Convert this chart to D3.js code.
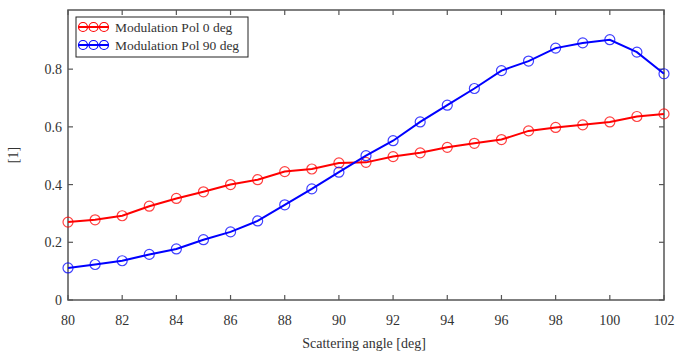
<!DOCTYPE html>
<html><head><meta charset="utf-8">
<script src="https://cdn.jsdelivr.net/npm/d3@7"></script>
<style>body{margin:0;background:#fff}svg{display:block}text{font-family:"Liberation Serif","Times New Roman",serif;fill:#333}</style>
</head><body><div id="c"></div>
<script>
const angles = [80,81,82,83,84,85,86,87,88,89,90,91,92,93,94,95,96,97,98,99,100,101,102];
const pol0 = [0.270,0.278,0.292,0.325,0.352,0.375,0.400,0.417,0.445,0.454,0.475,0.477,0.497,0.510,0.529,0.543,0.556,0.586,0.598,0.607,0.617,0.636,0.645];
const pol90 = [0.111,0.123,0.136,0.158,0.177,0.209,0.236,0.274,0.330,0.385,0.443,0.500,0.552,0.617,0.675,0.733,0.795,0.828,0.873,0.891,0.902,0.859,0.784];
const xTicks = [80,82,84,86,88,90,92,94,96,98,100,102];
const yTicks = [0,0.2,0.4,0.6,0.8];
const seriesNames = ["Modulation Pol 0 deg","Modulation Pol 90 deg"];
const seriesColors = ["#ff0000","#0000ff"];

const W=676,H=353, L=68,R=664,T=10,B=300;
const svg=d3.select("#c").append("svg").attr("width",W).attr("height",H);
const x=d3.scaleLinear().domain([80,102]).range([L,R]);
const y=d3.scaleLinear().domain([0,1.005]).range([B,T]);
const axisCol="#555";

svg.append("rect").attr("x",L).attr("y",T).attr("width",R-L).attr("height",B-T)
  .attr("fill","none").attr("stroke",axisCol).attr("stroke-width",1.5);

const tl=5;
xTicks.forEach(v=>{
  svg.append("line").attr("x1",x(v)).attr("x2",x(v)).attr("y1",B).attr("y2",B-tl).attr("stroke",axisCol).attr("stroke-width",1.2);
  svg.append("line").attr("x1",x(v)).attr("x2",x(v)).attr("y1",T).attr("y2",T+tl).attr("stroke",axisCol).attr("stroke-width",1.2);
  svg.append("text").attr("x",x(v)).attr("y",B+25).attr("text-anchor","middle").attr("font-size",14).text(v);
});
yTicks.forEach(v=>{
  svg.append("line").attr("x1",L).attr("x2",L+tl).attr("y1",y(v)).attr("y2",y(v)).attr("stroke",axisCol).attr("stroke-width",1.2);
  svg.append("line").attr("x1",R).attr("x2",R-tl).attr("y1",y(v)).attr("y2",y(v)).attr("stroke",axisCol).attr("stroke-width",1.2);
  svg.append("text").attr("x",L-6).attr("y",y(v)+5).attr("text-anchor","end").attr("font-size",14).text(v===0?"0":d3.format(".1f")(v));
});

svg.append("text").attr("x",364).attr("y",348).attr("text-anchor","middle").attr("font-size",14).text("Scattering angle [deg]");
svg.append("text").attr("transform","translate(18,155) rotate(-90)").attr("text-anchor","middle").attr("font-size",14).text("[1]");

const line=d3.line().x((d,i)=>x(angles[i])).y(d=>y(d));
[pol0,pol90].forEach((s,k)=>{
  const g=svg.append("g");
  g.append("path").datum(s).attr("d",line).attr("fill","none").attr("stroke",seriesColors[k]).attr("stroke-width",2);
  g.selectAll("circle").data(s).join("circle").attr("cx",(d,i)=>x(angles[i])).attr("cy",d=>y(d)).attr("r",5)
    .attr("fill","none").attr("stroke",seriesColors[k]).attr("stroke-width",1.2).attr("stroke-opacity",0.75);
});

const lg=svg.append("g");
lg.append("rect").attr("x",76).attr("y",17).attr("width",172).attr("height",40).attr("fill","#fff").attr("stroke","#222").attr("stroke-width",1);
seriesNames.forEach((n,k)=>{
  const yy=27+k*18;
  lg.append("line").attr("x1",79).attr("x2",108).attr("y1",yy).attr("y2",yy).attr("stroke",seriesColors[k]).attr("stroke-width",2);
  [83,93.5,104].forEach(cx=>lg.append("circle").attr("cx",cx).attr("cy",yy).attr("r",4.5).attr("fill","none").attr("stroke",seriesColors[k]).attr("stroke-width",1.2));
  lg.append("text").attr("x",115).attr("y",yy+4.5).attr("font-size",13.5).text(n);
});
</script></body></html>
